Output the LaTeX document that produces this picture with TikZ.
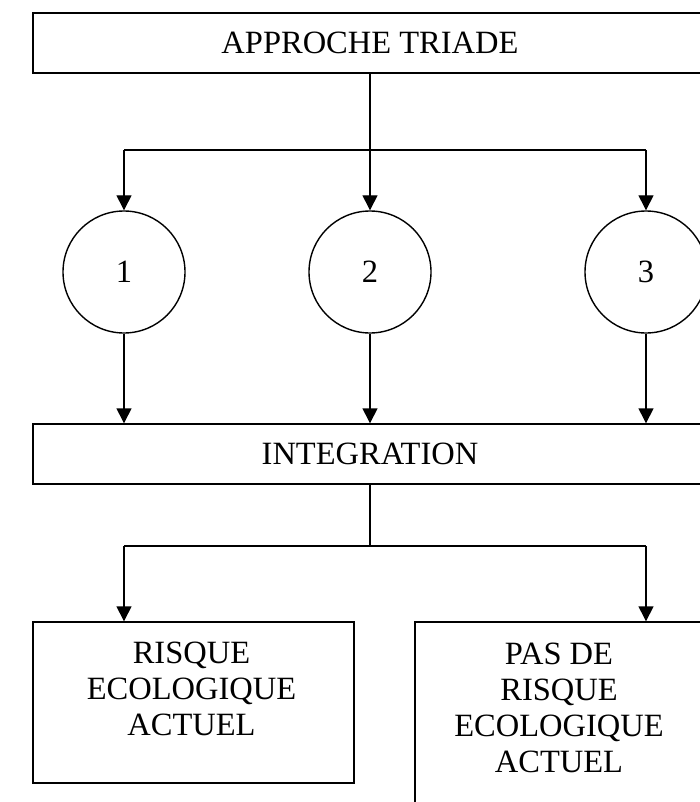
\documentclass[tikz,border=0pt]{standalone}
\usepackage{fontspec}
\setmainfont{Liberation Serif}
\usetikzlibrary{arrows.meta}

\begin{document}
\begin{tikzpicture}
  			[x=1pt,y=-1pt,line width=1.4pt,>={Triangle[width=15pt,length=15pt]},
  			every node/.style={font=\fontsize{32.5}{36}\selectfont, inner sep=0pt},
  			box/.style={draw, rectangle},
  			round/.style={circle, draw, minimum size=122pt}]
  			\useasboundingbox (0,0) rectangle (700,802);
  			\clip (0,0) rectangle (700,802);
  			\node [box, minimum width=674pt, minimum height=60pt] (triade) at (370,43) {APPROCHE TRIADE};
  			\node [round] (c1) at (124,272) {1};
  			\node [round] (c2) at (370,272) {2};
  			\node [round] (c3) at (646,272) {3};
  			\node [box, minimum width=674pt, minimum height=60pt] (integ) at (370,454) {INTEGRATION};
  			\node [box, minimum width=321pt, minimum height=161pt] (risk) at (193.5,702.5) {};
  			\node [box, minimum width=288pt, minimum height=228pt] (norisk) at (559,736) {};
  			\node [anchor=north, align=center] (risktxt) at (191.5,641) {RISQUE\\ECOLOGIQUE\\ACTUEL};
  			\node [anchor=north, align=center] (norisktxt) at (559,642) {PAS DE\\RISQUE\\ECOLOGIQUE\\ACTUEL};

  			\coordinate (s1) at (124,150);
  			\coordinate (s2) at (370,150);
  			\coordinate (s3) at (646,150);
  			\coordinate (m1) at (124,546);
  			\coordinate (m2) at (370,546);
  			\coordinate (m3) at (646,546);

  			\draw (triade.south) -- (s2);
  			\draw (s1) -- (s3);
  			\foreach \n in {1,2,3}
    		\draw[->] (s\n) -- (c\n);
  			\foreach \n in {1,2,3}
    		\draw[->] (c\n.south) -- (c\n.south |- integ.north);
  			\draw (integ.south) -- (m2);
  			\draw (m1) -- (m3);
  			\draw[->] (m1) -- (m1 |- risk.north);
  			\draw[->] (m3) -- (m3 |- norisk.north);
		\end{tikzpicture}
\end{document}
